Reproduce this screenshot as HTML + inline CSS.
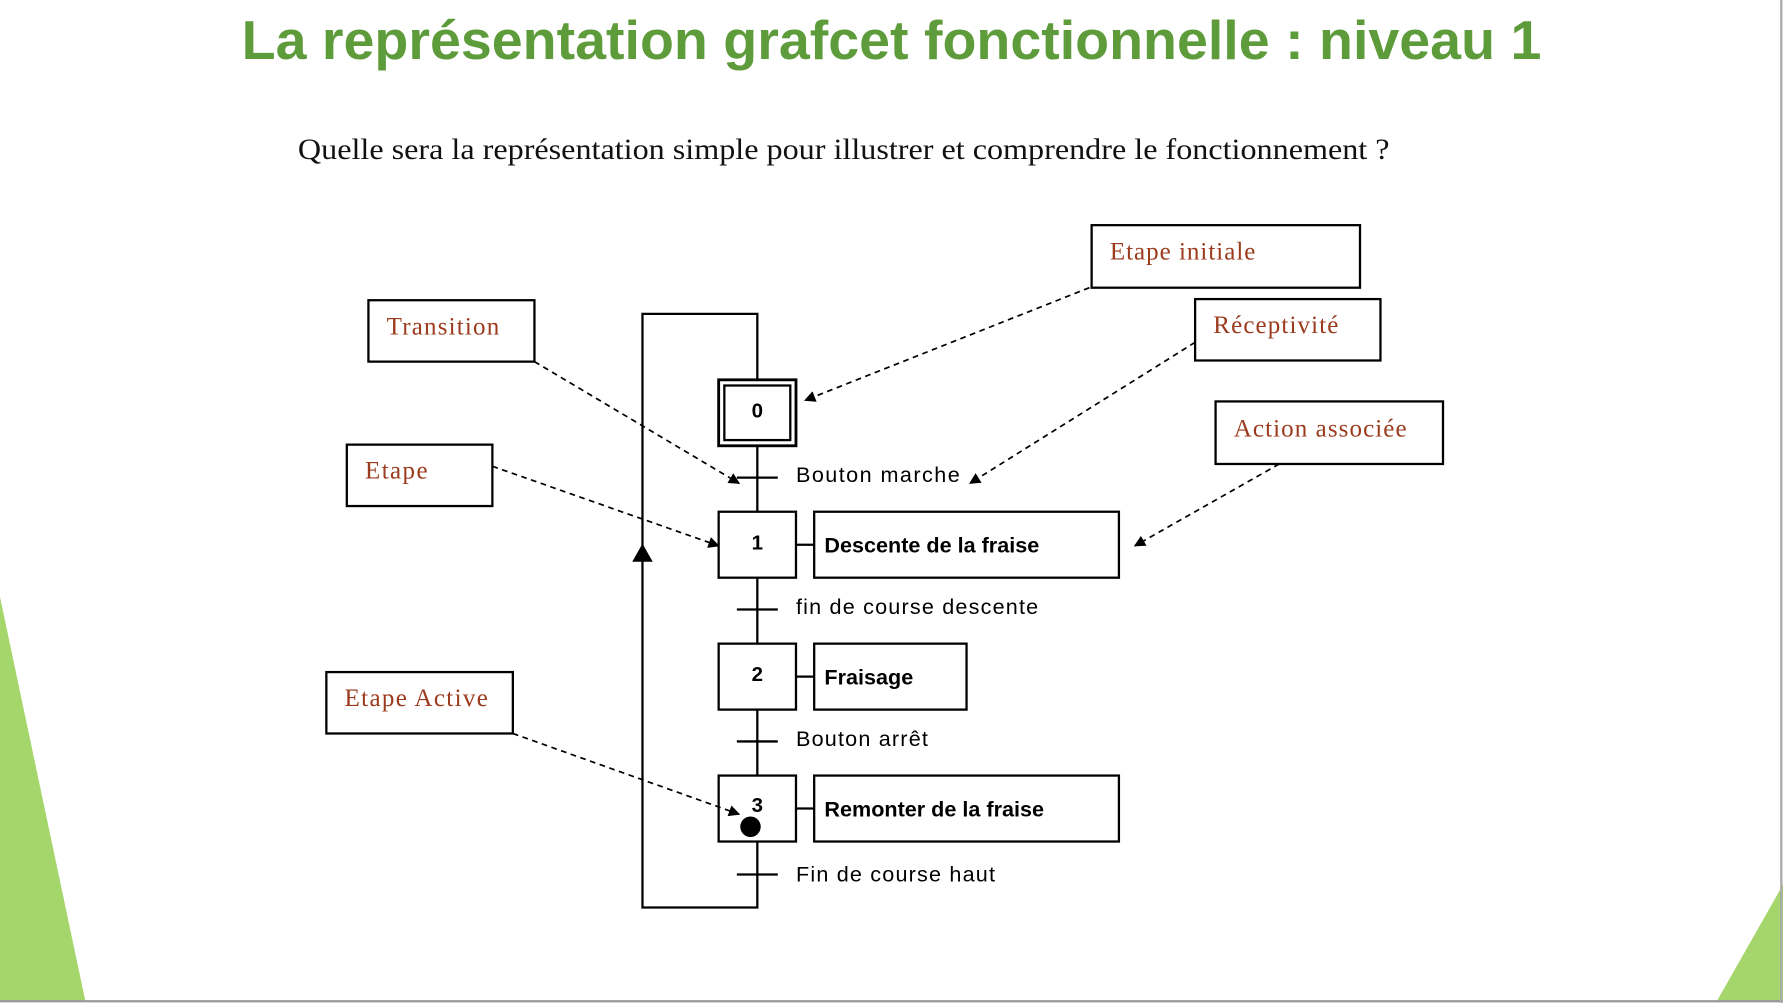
<!DOCTYPE html>
<html><head><meta charset="utf-8"><style>html,body{margin:0;padding:0;background:#fff;overflow:hidden}svg{display:block}</style></head>
<body>
<svg width="1783" height="1003" viewBox="0 0 1568 882" preserveAspectRatio="none" xmlns="http://www.w3.org/2000/svg">
<defs><marker id="a" markerWidth="10" markerHeight="10" refX="9" refY="5" orient="auto" markerUnits="userSpaceOnUse"><path d="M0,0 L10,5 L0,10 z" fill="#000"/></marker></defs>
<rect width="1568" height="882" fill="#fff"/>
<polygon points="0,525 75,880 0,880" fill="#a5d66b"/>
<polygon points="1568,778 1568,880 1510,880" fill="#a5d66b"/>
<line x1="0" y1="880.5" x2="1568" y2="880.5" stroke="#999" stroke-width="2"/>
<line x1="1566.5" y1="0" x2="1566.5" y2="882" stroke="#aaa" stroke-width="2"/>
<text x="784" y="52" text-anchor="middle" font-family="Liberation Sans, sans-serif" font-weight="bold" font-size="48" fill="#5e9c3b" textLength="1143" lengthAdjust="spacingAndGlyphs">La représentation grafcet fonctionnelle : niveau 1</text>
<text x="262" y="140" font-family="Liberation Serif, serif" font-size="26" fill="#111" textLength="960" lengthAdjust="spacingAndGlyphs">Quelle sera la représentation simple pour illustrer et comprendre le fonctionnement ?</text>
<g fill="none" stroke="#000" stroke-width="2">
<rect x="960" y="198" width="236" height="55"/><rect x="324" y="264" width="146" height="54"/>
<rect x="1051" y="263" width="163" height="54"/><rect x="1069" y="353" width="200" height="55"/>
<rect x="305" y="391" width="128" height="54"/><rect x="287" y="591" width="164" height="54"/>
<polyline points="666,334 666,276 565,276 565,798 666,798 666,740"/>
<line x1="666" y1="392" x2="666" y2="450"/><line x1="666" y1="508" x2="666" y2="566"/><line x1="666" y1="624" x2="666" y2="682"/>
<rect x="632" y="334" width="68" height="58" stroke-width="2.5"/><rect x="637" y="339" width="58" height="48"/>
<rect x="632" y="450" width="68" height="58"/><rect x="632" y="566" width="68" height="58"/><rect x="632" y="682" width="68" height="58"/>
<rect x="716" y="450" width="268" height="58"/><rect x="716" y="566" width="134" height="58"/><rect x="716" y="682" width="268" height="58"/>
<line x1="700" y1="479" x2="716" y2="479"/><line x1="700" y1="595" x2="716" y2="595"/><line x1="700" y1="711" x2="716" y2="711"/>
<line x1="648" y1="420" x2="684" y2="420"/><line x1="648" y1="536" x2="684" y2="536"/><line x1="648" y1="652" x2="684" y2="652"/><line x1="648" y1="769" x2="684" y2="769"/>
</g>
<polygon points="565,478 556,494 574,494" fill="#000"/>
<circle cx="660" cy="727" r="9" fill="#000"/>
<g stroke="#000" stroke-width="1.5" stroke-dasharray="5,4" fill="none" marker-end="url(#a)">
<line x1="470" y1="318" x2="650" y2="425"/><line x1="958" y1="253" x2="708" y2="352"/>
<line x1="1051" y1="301" x2="853" y2="425"/><line x1="1125" y1="408" x2="998" y2="480"/>
<line x1="433" y1="410" x2="632" y2="480"/><line x1="451" y1="645" x2="650" y2="716"/>
</g>
<g font-family="Liberation Serif, serif" font-size="22" fill="#9b3a1c" lengthAdjust="spacingAndGlyphs">
<text x="976" y="228" textLength="128">Etape initiale</text><text x="340" y="294" textLength="99">Transition</text>
<text x="1067" y="293" textLength="110">Réceptivité</text><text x="1085" y="384" textLength="152">Action associée</text>
<text x="321" y="421" textLength="55">Etape</text><text x="303" y="621" textLength="126">Etape Active</text>
</g>
<g font-family="Liberation Sans, sans-serif" font-weight="bold" font-size="18" fill="#000" text-anchor="middle">
<text x="666" y="367">0</text><text x="666" y="483">1</text><text x="666" y="599">2</text><text x="666" y="714">3</text>
</g>
<g font-family="Liberation Sans, sans-serif" font-weight="bold" font-size="19" fill="#000">
<text x="725" y="486">Descente de la fraise</text><text x="725" y="602">Fraisage</text><text x="725" y="718">Remonter de la fraise</text>
</g>
<g font-family="Liberation Sans, sans-serif" font-size="19" fill="#000" lengthAdjust="spacingAndGlyphs">
<text x="700" y="424" textLength="144">Bouton marche</text><text x="700" y="540" textLength="213">fin de course descente</text>
<text x="700" y="656" textLength="116">Bouton arrêt</text><text x="700" y="775" textLength="175">Fin de course haut</text>
</g>
</svg>
</body></html>
